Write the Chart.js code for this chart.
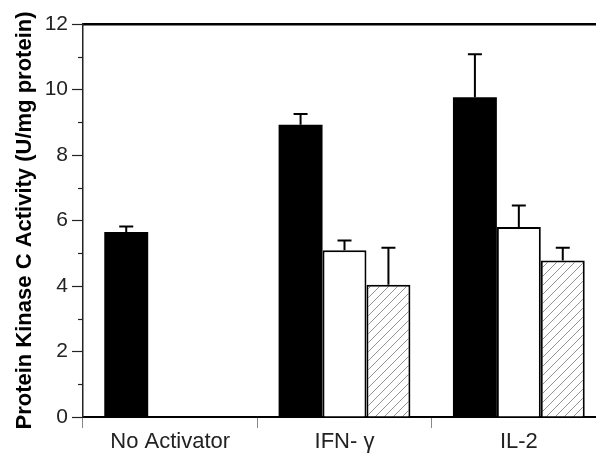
<!DOCTYPE html>
<html>
<head>
<meta charset="utf-8">
<script src="https://cdn.jsdelivr.net/npm/chart.js@4.4.1/dist/chart.umd.min.js"></script>
<style>
  html, body { margin: 0; padding: 0; background: #fff; overflow: hidden; }
  #wrap { width: 610px; height: 453px; }
</style>
</head>
<body>
<div id="wrap"><canvas id="pkcChart"></canvas></div>
<script>
// chart values
const categories = ['No Activator', 'IFN- \u03b3', 'IL-2'];
const blackValues = [5.65, 8.92, 9.76];
const blackErrors = [0.17, 0.33, 1.32];
const whiteValues = [null, 5.09, 5.80];
const whiteErrors = [null, 0.30, 0.66];
const hatchValues = [null, 4.04, 4.78];
const hatchErrors = [null, 1.13, 0.39];
const yTicks = [0, 2, 4, 6, 8, 10, 12];

// diagonal hatch fill
function makeHatch() {
    const s = 9;
    const c = document.createElement('canvas');
    c.width = s;
    c.height = s;
    const ctx = c.getContext('2d');
    ctx.fillStyle = '#fff';
    ctx.fillRect(0, 0, s, s);
    ctx.strokeStyle = '#777';
    ctx.lineWidth = 0.8;
    ctx.beginPath();
    ctx.moveTo(0, s); ctx.lineTo(s, 0);
    ctx.moveTo(-1, 1); ctx.lineTo(1, -1);
    ctx.moveTo(s - 1, s + 1); ctx.lineTo(s + 1, s - 1);
    ctx.stroke();
    return ctx.createPattern(c, 'repeat');
}

// upper error bars with caps
const errorBars = {
    id: 'errorBars',
    afterDatasetsDraw(chart) {
        const ctx = chart.ctx;
        const y = chart.scales.y;
        ctx.save();
        ctx.strokeStyle = '#000';
        ctx.lineWidth = 2;
        chart.data.datasets.forEach((ds, i) => {
            const meta = chart.getDatasetMeta(i);
            meta.data.forEach((bar, j) => {
                const v = ds.data[j];
                const e = ds.errors[j];
                if (v == null || e == null) return;
                const y0 = y.getPixelForValue(v);
                const y1 = y.getPixelForValue(v + e);
                ctx.beginPath();
                ctx.moveTo(bar.x, y0);
                ctx.lineTo(bar.x, y1);
                ctx.moveTo(bar.x - 7, y1);
                ctx.lineTo(bar.x + 7, y1);
                ctx.stroke();
            });
        });
        ctx.restore();
    }
};

// short minor ticks at odd values
const minorTicks = {
    id: 'minorTicks',
    afterDraw(chart) {
        const ctx = chart.ctx;
        const y = chart.scales.y;
        ctx.save();
        ctx.strokeStyle = '#222';
        ctx.lineWidth = 1.2;
        y.ticks.forEach(t => {
            if (yTicks.includes(t.value)) return;
            const py = Math.round(y.getPixelForValue(t.value)) + 0.5;
            ctx.beginPath();
            ctx.moveTo(y.right - 5, py);
            ctx.lineTo(y.right, py);
            ctx.stroke();
        });
        ctx.restore();
    }
};

const hatch = makeHatch();

const pkcChart = new Chart(document.getElementById('pkcChart'), {
    type: 'bar',
    data: {
        labels: categories,
        datasets: [
            {
                data: blackValues,
                errors: blackErrors,
                backgroundColor: '#000',
                borderColor: '#000',
                borderWidth: 0
            },
            {
                data: whiteValues,
                errors: whiteErrors,
                backgroundColor: '#fff',
                borderColor: '#000',
                borderWidth: 2
            },
            {
                data: hatchValues,
                errors: hatchErrors,
                backgroundColor: hatch,
                borderColor: '#000',
                borderWidth: 2
            }
        ]
    },
    options: {
        responsive: true,
        maintainAspectRatio: false,
        animation: false,
        categoryPercentage: 0.756,
        barPercentage: 1.0,
        layout: { padding: { top: 16, right: 4, left: 0, bottom: 0 } },
        plugins: {
            legend: { display: false },
            tooltip: { enabled: false }
        },
        scales: {
            x: {
                offset: true,
                afterFit(scale) { scale.height = 36; },
                grid: {
                    offset: true,
                    drawOnChartArea: false,
                    tickLength: 11,
                    color: '#888',
                    lineWidth: 1
                },
                border: { display: true, color: '#000', width: 2 },
                ticks: {
                    color: '#222',
                    padding: 1,
                    font: { family: 'Liberation Sans', size: 22 }
                }
            },
            x2: {
                position: 'top',
                type: 'category',
                grid: { display: false },
                ticks: { display: false },
                border: { display: true, color: '#000', width: 2.5 }
            },
            y: {
                min: 0,
                max: 12,
                afterFit(scale) { scale.width = 83; },
                ticks: {
                    stepSize: 1,
                    padding: 4,
                    color: '#222',
                    font: { family: 'Liberation Sans', size: 21 },
                    callback: v => (yTicks.includes(v) ? v : '')
                },
                grid: {
                    drawOnChartArea: false,
                    tickLength: 11,
                    tickWidth: 1.2,
                    tickColor: c => (yTicks.includes(c.tick.value) ? '#222' : 'rgba(0,0,0,0)')
                },
                border: { display: true, color: '#222', width: 1.5 },
                title: {
                    display: true,
                    text: 'Protein Kinase C Activity (U/mg protein)',
                    color: '#000',
                    padding: { top: 12, bottom: 0 },
                    font: { family: 'Liberation Sans', size: 22, weight: 'bold' }
                }
            }
        }
    },
    plugins: [errorBars, minorTicks]
});
</script>
</body>
</html>
